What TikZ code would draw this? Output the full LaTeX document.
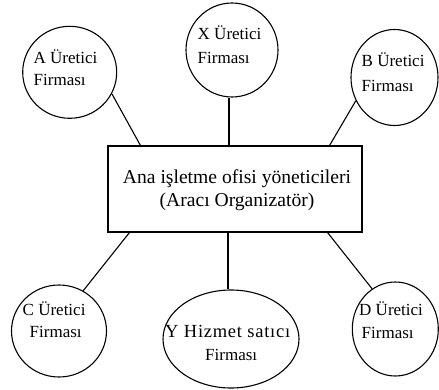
\documentclass[tikz,border=0pt]{standalone}
\usepackage{fontspec}
\setmainfont{Liberation Serif}
\usetikzlibrary{shapes.geometric}
\begin{document}
\begin{tikzpicture}[x=1pt,y=-1pt,
  firm/.style={draw, ellipse, line width=1.1pt, inner sep=0pt},
  hub/.style={draw, rectangle, line width=1.1pt, minimum width=254pt,
    minimum height=86pt, inner sep=0pt},
  ftext/.style={anchor=base west, inner sep=0pt, font=\fontsize{17}{21}\selectfont},
  htext/.style={anchor=base, inner sep=0pt, font=\fontsize{19.6}{24}\selectfont},
  link/.style={line width=1.1pt}]
\useasboundingbox (0,0) rectangle (439,390);

% central office box
\node[hub] (hub) at (235,189) {};
\node[htext] (hub1) at (237,183.3) {Ana işletme ofisi yöneticileri};
\node[htext] (hub2) at (237,207) {(Aracı Organizatör)};

% surrounding firms
\node[firm, minimum width=94pt, minimum height=92pt] (A) at (69.7,72.3) {};
\node[firm, minimum width=92pt, minimum height=94pt] (X) at (232,50) {};
\node[firm, minimum width=87pt, minimum height=96pt] (B) at (394.5,77.5) {};
\node[firm, minimum width=95pt, minimum height=92pt] (C) at (59,331) {};
\node[firm, minimum width=136pt, minimum height=98pt] (Y) at (231,339) {};
\node[firm, minimum width=86pt, minimum height=94pt] (D) at (395.3,329) {};

\node[ftext] (A1) at (33.5,64) {A Üretici};
\node[ftext] (A2) at (33.5,86) {Firması};
\node[ftext] (X1) at (197.5,39.3) {X Üretici};
\node[ftext] (X2) at (197.5,63.3) {Firması};
\node[ftext] (B1) at (361.5,66.7) {B Üretici};
\node[ftext] (B2) at (361.5,91.7) {Firması};
\node[ftext] (C1) at (22.5,315) {C Üretici};
\node[ftext] (C2) at (29.5,337.3) {Firması};
\node[ftext] (D1) at (359,315) {D Üretici};
\node[ftext] (D2) at (361.5,338.3) {Firması};
\node[ftext, font=\fontsize{18.5}{21}\addfontfeatures{LetterSpace=4}] (Y1) at (165,337.3) {Y Hizmet satıcı};
\node[ftext] (Y2) at (205,360) {Firması};

% connectors
\draw[link] (A.-27) -- ([xshift=33pt]hub.north west);
\draw[link] ([xshift=-3pt]X.south) -- ([xshift=-3pt]X.south |- hub.north);
\draw[link] (B.211) -- ([xshift=-33pt]hub.north east);
\draw[link] (C.59) -- ([xshift=22pt]hub.south west);
\draw[link] ([xshift=-3pt]Y.north) -- ([xshift=-3pt]Y.north |- hub.south);
\draw[link] (D.120) -- ([xshift=-35pt]hub.south east);
\end{tikzpicture}
\end{document}
